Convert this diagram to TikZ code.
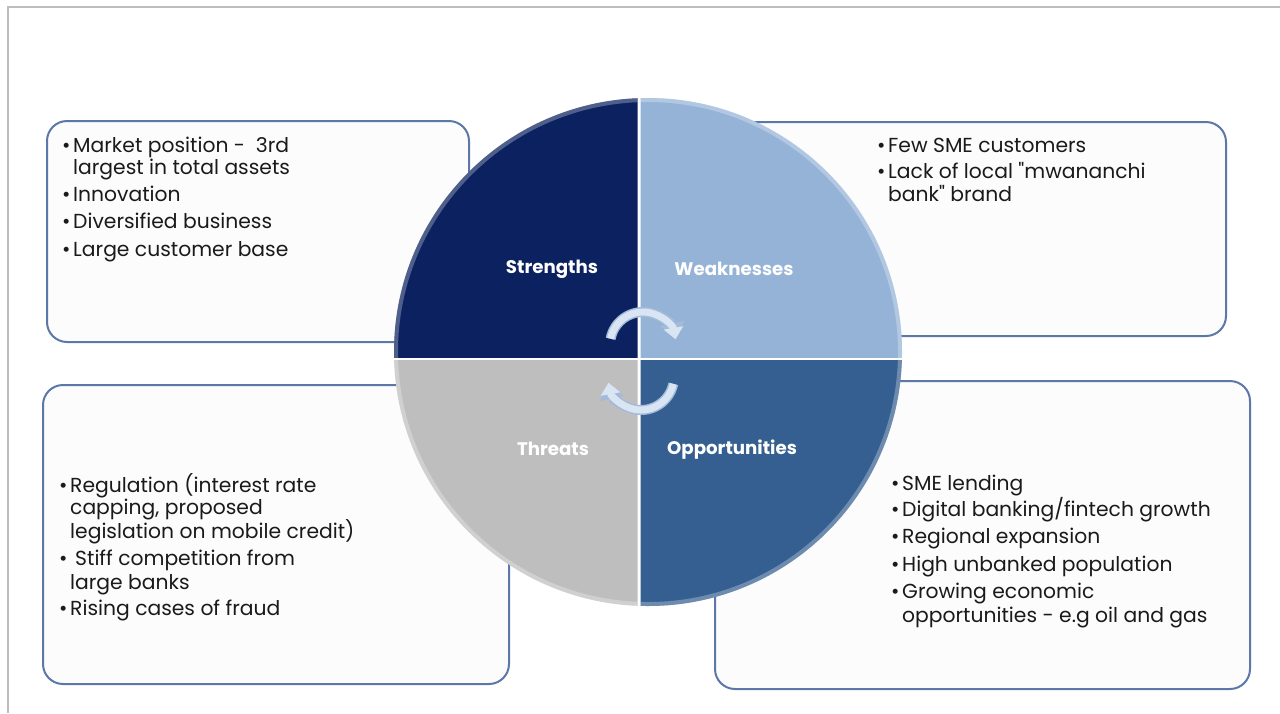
\documentclass[tikz,border=0pt]{standalone}
\usepackage{fontspec}
\setmainfont{Poppins}
\newfontfamily\plainq{Poppins}
\usetikzlibrary{arrows.meta}
\definecolor{strcol}{HTML}{0C2260}
\definecolor{weakcol}{HTML}{95B3D7}
\definecolor{oppcol}{HTML}{365F91}
\definecolor{thrcol}{HTML}{BEBEBE}
\definecolor{boxline}{HTML}{5B78A8}
\definecolor{framecol}{HTML}{BDBDBD}
\definecolor{txtcol}{HTML}{1A1A1A}
\definecolor{cyccol}{HTML}{D9E5F3}
\definecolor{cycedge}{HTML}{A3BBDA}
\newcommand{\dq}{{\plainq"}}
\begin{document}
\begin{tikzpicture}[x=1pt, y=-1pt,
  box/.style={draw=boxline, line width=2pt, fill=white!98!gray, rounded corners=20pt, inner sep=0pt},
  ln/.style={anchor=base west, inner sep=0pt, text=txtcol, font=\fontsize{20.3}{23}\selectfont},
  bl/.style={anchor=base west, inner sep=0pt, text=txtcol, font=\fontsize{20.3}{23}\selectfont},
  lab/.style={anchor=base, inner sep=0pt, text=white, font=\fontsize{18.2}{21}\selectfont\bfseries},
  rim/.style={white, opacity=0.28, line width=4pt},
  cycback/.style={cycedge, line width=10pt, -{Triangle[length=15pt, width=24pt]}},
  cyc/.style={cyccol, line width=7pt, -{Triangle[length=11.5pt, width=19pt]}}]
\useasboundingbox (0,0) rectangle (1280,713);
\fill[white] (0,0) rectangle (1280,713);
% slide frame
\draw[framecol, line width=1.5pt] (8,713) -- (8,7) -- (1280,7);

% text panels
\node[box, minimum width=422pt, minimum height=221pt] (sbox) at (258,231.5) {};
\node[box, minimum width=526pt, minimum height=214pt] (wbox) at (963,229) {};
\node[box, minimum width=466pt, minimum height=299pt] (tbox) at (276,534.5) {};
\node[box, minimum width=535pt, minimum height=308pt] (obox) at (982.5,535) {};

% strengths
\node[bl] (sb1) at (62,152) {•};
\node[ln] (s1a) at (73,152) {Market position -\ \ 3rd};
\node[ln] (s1b) at (73,174) {largest in total assets};
\node[bl] (sb2) at (62,201) {•};
\node[ln] (s2) at (73,201) {Innovation};
\node[bl] (sb3) at (62,228) {•};
\node[ln] (s3) at (73,228) {Diversified business};
\node[bl] (sb4) at (62,256) {•};
\node[ln] (s4) at (73,256) {Large customer base};

% weaknesses
\node[bl] (wb1) at (877,152) {•};
\node[ln] (w1) at (888,152) {Few SME customers};
\node[bl] (wb2) at (877,178) {•};
\node[ln] (w2a) at (888,178) {Lack of local \dq mwananchi};
\node[ln] (w2b) at (888,201) {bank\dq\ brand};

% threats
\node[bl] (tb1) at (59,492) {•};
\node[ln] (t1a) at (70,492) {Regulation (interest rate};
\node[ln] (t1b) at (70,514) {capping, proposed};
\node[ln] (t1c) at (70,538) {legislation on mobile credit)};
\node[bl] (tb2) at (59,565) {•};
\node[ln] (t2a) at (75,565) {Stiff competition from};
\node[ln] (t2b) at (70,589) {large banks};
\node[bl] (tb3) at (59,615) {•};
\node[ln] (t3) at (70,615) {Rising cases of fraud};

% opportunities
\node[bl] (ob1) at (891,490) {•};
\node[ln] (o1) at (902,490) {SME lending};
\node[bl] (ob2) at (891,516) {•};
\node[ln] (o2) at (902,516) {Digital banking/fintech growth};
\node[bl] (ob3) at (891,543) {•};
\node[ln] (o3) at (902,543) {Regional expansion};
\node[bl] (ob4) at (891,571) {•};
\node[ln] (o4) at (902,571) {High unbanked population};
\node[bl] (ob5) at (891,598) {•};
\node[ln] (o5a) at (902,598) {Growing economic};
\node[ln] (o5b) at (902,622) {opportunities - e.g oil and gas};

% quartered disc
\coordinate (pc) at (648,352);
\begin{scope}
  \clip (380,80) rectangle (637.5,357.5);
  \fill[strcol] (pc) circle (254);
  \draw[rim] (pc) circle (252);
\end{scope}
\begin{scope}
  \clip (640.5,80) rectangle (920,357.5);
  \fill[weakcol] (pc) circle (254);
  \draw[rim] (pc) circle (252);
\end{scope}
\begin{scope}
  \clip (380,360.5) rectangle (637.5,620);
  \fill[thrcol] (pc) circle (254);
  \draw[rim] (pc) circle (252);
\end{scope}
\begin{scope}
  \clip (640.5,360.5) rectangle (920,620);
  \fill[oppcol] (pc) circle (254);
  \draw[rim] (pc) circle (252);
\end{scope}

\node[lab] (lS) at (552,273) {Strengths};
\node[lab] (lW) at (734,275) {Weaknesses};
\node[lab] (lT) at (553,455) {Threats};
\node[lab] (lO) at (732,454) {Opportunities};

% cycle arrows
\coordinate (ca) at (643,345);
\coordinate (cb) at (641,377);
\draw[cycback] ([shift={(191:33)}]ca) arc[start angle=191, end angle=348, radius=33];
\draw[cyc] ([shift={(191:33)}]ca) arc[start angle=191, end angle=350, radius=33];
\draw[cycback] ([shift={(12:33)}]cb) arc[start angle=12, end angle=168, radius=33];
\draw[cyc] ([shift={(12:33)}]cb) arc[start angle=12, end angle=170, radius=33];
\end{tikzpicture}
\end{document}
